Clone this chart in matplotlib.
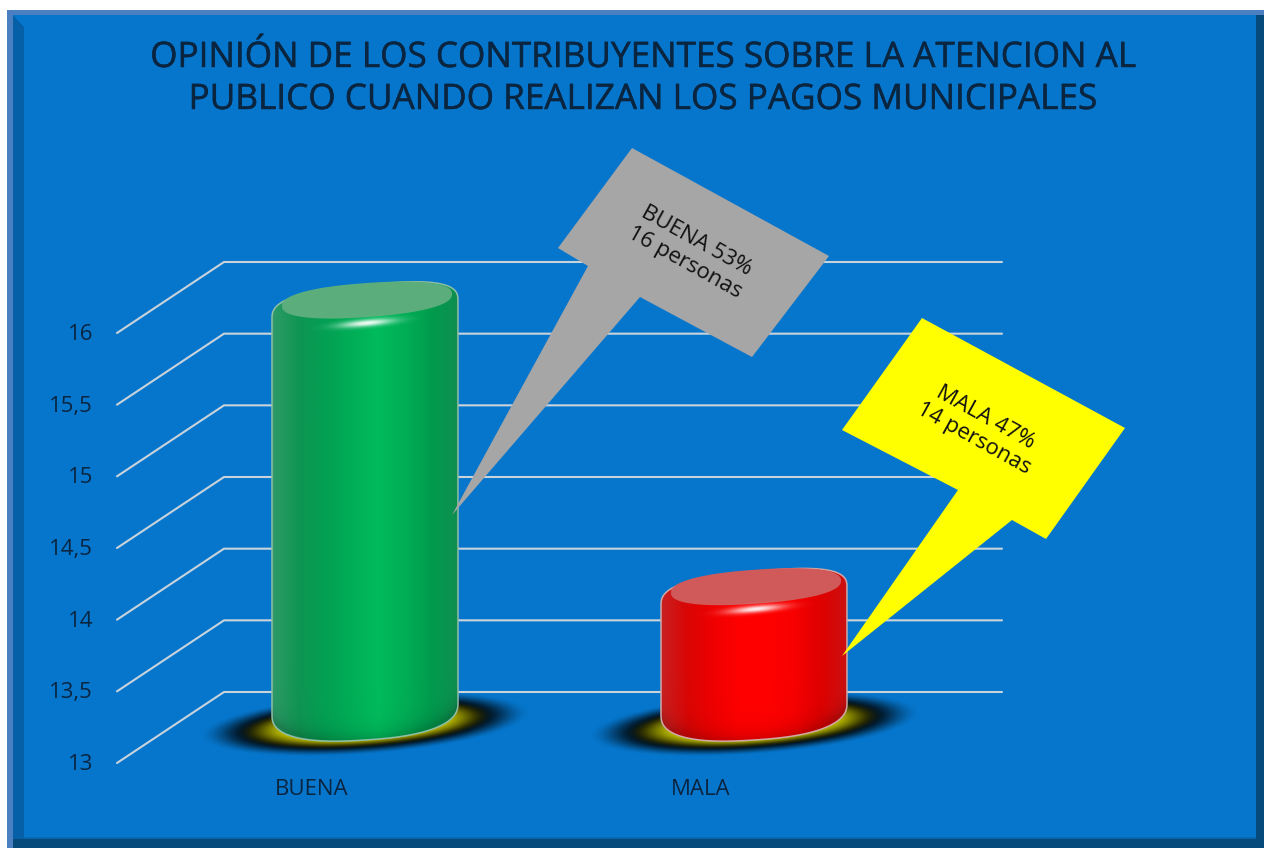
import numpy as np
import matplotlib
matplotlib.use("Agg")
import matplotlib.pyplot as plt
import matplotlib.patheffects as pe
from matplotlib.patches import Polygon, Rectangle, PathPatch
from matplotlib.path import Path
from matplotlib.colors import LinearSegmentedColormap, to_rgb

# ---------- data ----------
categories = ["BUENA", "MALA"]
values = [16, 14]
tick_values = [13, 13.5, 14, 14.5, 15, 15.5, 16]
tick_labels = ["13", "13,5", "14", "14,5", "15", "15,5", "16"]
title_lines = ["OPINIÓN DE LOS CONTRIBUYENTES SOBRE LA ATENCION AL",
               "PUBLICO CUANDO REALIZAN LOS PAGOS MUNICIPALES"]
callout_texts = ["BUENA 53%\n16 personas", "MALA 47%\n14 personas"]

# ---------- style ----------
FONT = "Open Sans"
W, H = 1264, 848
MAIN = "#0676CC"
TEXT = "#0A2540"
GRID = "#C9D3DC"
PX_PER_CAT = 389.0
PX_PER_VAL = 143.33
X0_PX, Y13_PX = 365.0, 763.0

fig = plt.figure(figsize=(W / 100, H / 100), dpi=100, facecolor="white")
ax = fig.add_axes([0, 0, 1, 1])
ax.axis("off")
xlim = (-X0_PX / PX_PER_CAT, (W - X0_PX) / PX_PER_CAT)
ylim = (13 - (H - Y13_PX) / PX_PER_VAL, 13 + Y13_PX / PX_PER_VAL)
dx = 1 / PX_PER_CAT      # data units per pixel
dy = 1 / PX_PER_VAL


def X(px):
    return np.asarray(px, float) * dx + xlim[0]


def Y(py):
    return ylim[1] - np.asarray(py, float) * dy


def P(points):
    return [(X(a), Y(b)) for a, b in points]


# ---------- frame ----------
def rect(x0, y0, x1, y1, color, z=0):
    ax.add_patch(Rectangle((X(x0), Y(y1)), (x1 - x0) * dx, (y1 - y0) * dy,
                           fc=color, ec="none", zorder=z))


rect(7, 10, W, H, "#4A80C2", 0)
rect(13, 15, 1256, 840, MAIN, 1)
ax.add_patch(Polygon(P([(13, 15), (24, 27), (24, 839), (13, 839)]), fc="#0560A8", ec="none", zorder=1.1))
rect(1256, 15, W, H, "#064A7C", 1.2)
rect(13, 839, W, H, "#064A7C", 1.2)
rect(24, 837, 1256, 839, "#0666AE", 1.1)

# ---------- walls / grid ----------
depth_px, depth_py = 107, 71
x_front, x_right = 117, 1002
for v, lab in zip(tick_values, tick_labels):
    xs = [X(x_front), X(x_front + depth_px), X(x_right)]
    ys = [v, v + depth_py * dy, v + depth_py * dy]
    ax.plot(xs, ys, color=GRID, lw=1.5, zorder=2, solid_capstyle="round")
    ax.text(X(93), v - 1.5 * dy, lab, ha="right", va="center", family=FONT,
            fontsize=16, color=TEXT, zorder=6)


# ---------- cylinders ----------
def spow(c, p=0.8):
    return np.sign(c) * np.abs(c) ** p


def ell(cx, cy, a, b, s, t, p=0.8):
    u = spow(np.cos(t), p)
    return cx + a * u, cy + b * spow(np.sin(t), p) - s * u


def glow(cx, cy, rx, ry, z, color="white", amax=1.0):
    xs = np.linspace(cx - 3 * rx, cx + 3 * rx, 120)
    ys = np.linspace(cy - 4 * ry, cy + 4 * ry, 60)
    xx, yy = np.meshgrid(xs, ys)
    r2 = ((xx - cx) / rx) ** 2 + ((yy - cy + 0.09 * (xx - cx)) / ry) ** 2
    img = np.zeros(xx.shape + (4,))
    img[..., :3] = to_rgb(color)
    img[..., 3] = amax * np.exp(-r2)
    ax.imshow(img, extent=(X(xs[0]), X(xs[-1]), Y(ys[-1]), Y(ys[0])), origin="upper",
              aspect="auto", zorder=z, interpolation="bilinear")


def smooth(k):
    k = np.clip(k, 0, 1)
    return k * k * (3 - 2 * k)


def shadow(cx, cy, z):
    xs = np.linspace(cx - 190, cx + 190, 380)
    ys = np.linspace(cy - 50, cy + 50, 100)
    xx, yy = np.meshgrid(xs, ys)
    u = (xx - cx) / 145
    v = ((yy - cy) + 0.07 * (xx - cx)) / 27
    r = np.sqrt(u * u + v * v)
    k = smooth((r - 0.5) / 0.4)
    yellow = np.array(to_rgb("#CCCC00"))
    img = np.zeros(xx.shape + (4,))
    for c in range(3):
        img[..., c] = yellow[c] * (1 - k) + 0.0 * k
    img[..., 3] = smooth((1.15 - r) / 0.4)
    ax.imshow(img, extent=(X(xs[0]), X(xs[-1]), Y(ys[-1]), Y(ys[0])), origin="upper",
              aspect="auto", zorder=z, interpolation="bilinear")


def cylinder(index, value, stops, cap_color, edge_color):
    cx = X0_PX + index * PX_PER_CAT
    a = 93
    # pixel positions come from the value scale
    top = (ylim[1] - value) * PX_PER_VAL - 23
    bot = (ylim[1] - 13) * PX_PER_VAL - 54
    shadow(cx, bot + 15, 3)

    t1 = np.linspace(np.pi, 0, 80)      # lower half, left to right (image y down)
    t2 = np.linspace(0, -np.pi, 80)     # upper half, right to left
    xb, yb = ell(cx, bot, a, 31, 6, t1)
    xt, yt = ell(cx, top, a, 25, 9, t2, p=0.7)
    verts = list(zip(X(np.r_[xb, xt]), Y(np.r_[yb, yt])))
    path = Path(verts + [verts[0]])
    body = PathPatch(path, fc="none", ec=edge_color, lw=1.1, zorder=4.5)
    ax.add_patch(body)

    xs = np.linspace(cx - a, cx + a, 190)
    ys = np.linspace(top - 40, bot + 45, 300)
    xx, yy = np.meshgrid(xs, ys)
    cmap = LinearSegmentedColormap.from_list("c", stops)
    img = cmap((xx - xs[0]) / (xs[-1] - xs[0]))[..., :3].copy()
    u = np.clip((xx - cx) / a, -1, 1)
    lower = bot + 31 * np.sqrt(1 - u * u) - 6 * u
    shade = 1 - 0.18 * np.exp(-np.clip(lower - yy, 0, None) / 9)
    img = img * shade[..., None]
    im = ax.imshow(img, extent=(X(xs[0]), X(xs[-1]), Y(ys[-1]), Y(ys[0])), origin="upper",
                   aspect="auto", zorder=4, interpolation="bilinear")
    clip = PathPatch(path, fc="none", ec="none", transform=ax.transData)
    ax.add_patch(clip)
    im.set_clip_path(clip)

    tt = np.linspace(0, 2 * np.pi, 160)
    xc, yc = ell(cx + 2, top - 10, 85, 17, 6, tt, p=0.85)
    ax.fill(X(xc), Y(yc), fc=cap_color, ec="none", zorder=4.6)
    glow(cx + 2, top + 13, 27, 3.4, 4.7, amax=0.95)


green_stops = ["#2E9A68", "#0F9552", "#03A052", "#00AE57", "#00BB5C", "#00AE56", "#009C4D", "#0F8F50"]
red_stops = ["#C82020", "#DA0505", "#F00000", "#FF0000", "#FF0000", "#F80000", "#E00000", "#CC1010"]
cyl_styles = [(green_stops, "#5BAE7C", "#8FBFA6"), (red_stops, "#D05A5A", "#D0A8A8")]

for i, (cat, val) in enumerate(zip(categories, values)):
    st, cap, edge = cyl_styles[i]
    cylinder(i, val, st, cap, edge)
    ax.text(i - 53 * dx, Y(789), cat, ha="center", va="center", family=FONT,
            fontsize=16, color=TEXT, zorder=6)

# ---------- callouts ----------
gray_outline = [(632, 148), (829, 256), (752, 357), (640, 297), (452, 515), (588, 266), (558, 248)]
yellow_outline = [(922, 318), (1125, 428), (1046, 539), (1012, 520), (842, 656), (958, 490), (842, 430)]
ax.add_patch(Polygon(P(gray_outline), fc="#A6A6A6", ec="none", zorder=7))
ax.add_patch(Polygon(P(yellow_outline), fc="#FFFF00", ec="none", zorder=7))
ax.text(X(691), Y(252), callout_texts[0], rotation=-29, rotation_mode="anchor", ha="center",
        va="center", family=FONT, fontsize=16, color="#111111", zorder=8, linespacing=1.2)
ax.text(X(980), Y(428), callout_texts[1], rotation=-29, rotation_mode="anchor", ha="center",
        va="center", family=FONT, fontsize=16, color="#111111", zorder=8, linespacing=1.2)

# ---------- title ----------
stroke = [pe.withStroke(linewidth=0.35, foreground=TEXT)]
ax.text(X(642), Y(67), title_lines[0], ha="center", va="baseline", family=FONT,
        fontsize=25.3, color=TEXT, zorder=6, path_effects=stroke)
ax.text(X(642), Y(109), title_lines[1], ha="center", va="baseline", family=FONT,
        fontsize=25.3, color=TEXT, zorder=6, path_effects=stroke)

ax.set_xlim(*xlim)
ax.set_ylim(*ylim)
fig.savefig("out.png", dpi=100, facecolor="white")
